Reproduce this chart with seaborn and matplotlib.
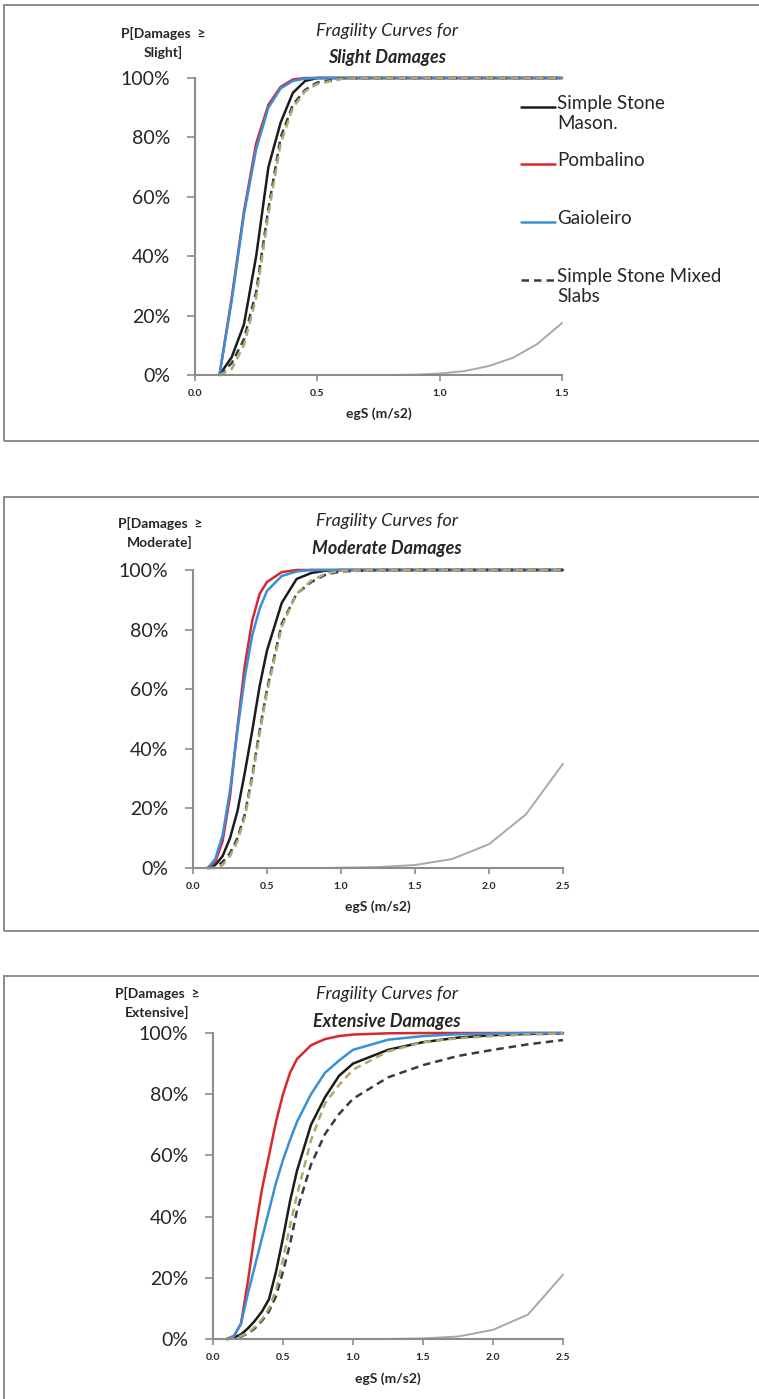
import numpy as np
import pandas as pd
import matplotlib
matplotlib.use("Agg")
import matplotlib.pyplot as plt
import seaborn as sns
from matplotlib.ticker import PercentFormatter, FormatStrFormatter
from matplotlib.patches import Rectangle
from matplotlib.lines import Line2D

sns.set_style("white")
plt.rcParams["font.family"] = ["Lato", "DejaVu Sans"]

# building types (last two are not in the legend)
types = ["Simple Stone Mason.", "Pombalino", "Gaioleiro",
         "Simple Stone Mixed Slabs", "Other (dashed)", "Other (grey)"]

# slight damages
x_slight = [0.1, 0.15, 0.2, 0.25, 0.3, 0.35, 0.4, 0.45, 0.5, 0.6, 0.7, 0.8, 0.9, 1.0, 1.1, 1.2, 1.3, 1.4, 1.5]
slight_ssm = [0, 0.06, 0.17, 0.40, 0.70, 0.85, 0.95, 0.99, 1, 1, 1, 1, 1, 1, 1, 1, 1, 1, 1]
slight_pomb = [0, 0.26, 0.55, 0.78, 0.91, 0.97, 0.995, 1, 1, 1, 1, 1, 1, 1, 1, 1, 1, 1, 1]
slight_gaio = [0, 0.25, 0.54, 0.76, 0.90, 0.965, 0.99, 0.998, 1, 1, 1, 1, 1, 1, 1, 1, 1, 1, 1]
slight_ssms = [0, 0.04, 0.12, 0.28, 0.56, 0.80, 0.91, 0.96, 0.985, 0.998, 1, 1, 1, 1, 1, 1, 1, 1, 1]
slight_other = [0, 0.02, 0.10, 0.26, 0.54, 0.78, 0.90, 0.955, 0.98, 0.997, 1, 1, 1, 1, 1, 1, 1, 1, 1]
slight_grey = [0, 0, 0, 0, 0, 0, 0, 0, 0, 0, 0, 0, 0.001, 0.005, 0.013, 0.03, 0.058, 0.105, 0.175]

# moderate damages
x_mod = [0.1, 0.15, 0.2, 0.25, 0.3, 0.35, 0.4, 0.45, 0.5, 0.6, 0.7, 0.8, 0.9, 1.0, 1.25, 1.5, 1.75, 2.0, 2.25, 2.5]
mod_ssm = [0, 0.01, 0.04, 0.10, 0.19, 0.32, 0.46, 0.61, 0.73, 0.89, 0.97, 0.99, 0.998, 1, 1, 1, 1, 1, 1, 1]
mod_pomb = [0, 0.02, 0.09, 0.24, 0.47, 0.68, 0.83, 0.92, 0.96, 0.993, 1, 1, 1, 1, 1, 1, 1, 1, 1, 1]
mod_gaio = [0, 0.03, 0.11, 0.26, 0.46, 0.64, 0.78, 0.87, 0.93, 0.98, 0.995, 1, 1, 1, 1, 1, 1, 1, 1, 1]
mod_ssms = [0, 0.003, 0.02, 0.05, 0.10, 0.18, 0.31, 0.46, 0.60, 0.82, 0.92, 0.96, 0.985, 0.995, 1, 1, 1, 1, 1, 1]
mod_other = [0, 0, 0.01, 0.04, 0.09, 0.17, 0.30, 0.45, 0.59, 0.81, 0.92, 0.965, 0.988, 0.997, 1, 1, 1, 1, 1, 1]
mod_grey = [0, 0, 0, 0, 0, 0, 0, 0, 0, 0, 0, 0, 0, 0.001, 0.003, 0.01, 0.03, 0.08, 0.18, 0.35]

# extensive damages
x_ext = [0.1, 0.15, 0.2, 0.25, 0.3, 0.35, 0.4, 0.45, 0.5, 0.55, 0.6, 0.7, 0.8, 0.9, 1.0, 1.25, 1.5, 1.75, 2.0, 2.25, 2.5]
ext_ssm = [0, 0.005, 0.015, 0.035, 0.06, 0.09, 0.13, 0.22, 0.33, 0.45, 0.55, 0.70, 0.79, 0.86, 0.90, 0.945, 0.97, 0.985, 0.993, 0.997, 0.999]
ext_pomb = [0, 0.01, 0.05, 0.19, 0.35, 0.49, 0.60, 0.71, 0.80, 0.87, 0.915, 0.96, 0.98, 0.99, 0.995, 0.999, 1, 1, 1, 1, 1]
ext_gaio = [0, 0.01, 0.05, 0.15, 0.24, 0.33, 0.42, 0.51, 0.585, 0.65, 0.71, 0.80, 0.87, 0.91, 0.945, 0.978, 0.99, 0.996, 0.998, 1, 1]
ext_ssms = [0, 0.002, 0.008, 0.018, 0.035, 0.06, 0.09, 0.14, 0.22, 0.31, 0.42, 0.57, 0.67, 0.735, 0.785, 0.855, 0.895, 0.925, 0.945, 0.963, 0.977]
ext_other = [0, 0.002, 0.01, 0.02, 0.04, 0.065, 0.10, 0.16, 0.26, 0.37, 0.47, 0.65, 0.77, 0.83, 0.88, 0.94, 0.97, 0.983, 0.99, 0.995, 0.998]
ext_grey = [0, 0, 0, 0, 0, 0, 0, 0, 0, 0, 0, 0, 0, 0, 0, 0, 0.002, 0.008, 0.03, 0.08, 0.21]

x_ticks_slight = [0.0, 0.5, 1.0, 1.5]
x_ticks_long = [0.0, 0.5, 1.0, 1.5, 2.0, 2.5]
y_ticks = [0, 0.2, 0.4, 0.6, 0.8, 1.0]

palette = {
    "Simple Stone Mason.": "#1c1c1c",
    "Pombalino": "#d8282c",
    "Gaioleiro": "#3990d8",
    "Simple Stone Mixed Slabs": "#3a3a44",
    "Other (dashed)": "#b3a86c",
    "Other (grey)": "#a8a8a8",
}
dashes = {
    "Simple Stone Mason.": "",
    "Pombalino": "",
    "Gaioleiro": "",
    "Simple Stone Mixed Slabs": (3, 2),
    "Other (dashed)": (3, 2),
}

panels = [
    dict(x=x_slight, ys=[slight_ssm, slight_pomb, slight_gaio, slight_ssms, slight_other, slight_grey],
         level="Slight", xmax=1.5, xticks=x_ticks_slight,
         rect=[195, 78, 562, 375], ylab=(163, 43), title_y=(31, 57), box=(5, 441)),
    dict(x=x_mod, ys=[mod_ssm, mod_pomb, mod_gaio, mod_ssms, mod_other, mod_grey],
         level="Moderate", xmax=2.5, xticks=x_ticks_long,
         rect=[193, 570, 563, 868], ylab=(160, 533), title_y=(521, 549), box=(497, 931)),
    dict(x=x_ext, ys=[ext_ssm, ext_pomb, ext_gaio, ext_ssms, ext_other, ext_grey],
         level="Extensive", xmax=2.5, xticks=x_ticks_long,
         rect=[213, 1033, 563, 1339], ylab=(157, 1003), title_y=(994, 1022), box=(976, 1420)),
]

W, H = 759, 1399
fig = plt.figure(figsize=(W / 100, H / 100), dpi=100)
axis_grey = "#8c8c8c"

for p in panels:
    # grey frame around each chart
    fig.patches.append(Rectangle((4 / W, 1 - p["box"][1] / H), (770 - 4) / W,
                                 (p["box"][1] - p["box"][0]) / H, transform=fig.transFigure,
                                 fill=False, edgecolor="#8a8a8a", linewidth=1.4))

    x0, y0, x1, y1 = p["rect"]
    ax = fig.add_axes([x0 / W, 1 - y1 / H, (x1 - x0) / W, (y1 - y0) / H])

    rows = []
    for name, vals in zip(types, p["ys"]):
        for xv, yv in zip(p["x"], vals):
            rows.append((name, xv, yv))
    df = pd.DataFrame(rows, columns=["type", "egS", "P"])

    main = df[df["type"] != "Other (grey)"]
    sns.lineplot(data=main, x="egS", y="P", hue="type", style="type",
                 hue_order=types[:5], style_order=types[:5],
                 palette=palette, dashes=dashes, linewidth=1.8,
                 estimator=None, sort=False, legend=False, ax=ax)
    sns.lineplot(data=df[df["type"] == "Other (grey)"], x="egS", y="P",
                 color=palette["Other (grey)"], linewidth=1.4,
                 estimator=None, sort=False, legend=False, ax=ax)
    for ln in ax.lines:
        ln.set_clip_on(False)

    ax.set_xlim(0, p["xmax"])
    ax.set_ylim(0, 1)
    ax.set_xticks(p["xticks"])
    ax.set_yticks(y_ticks)
    ax.yaxis.set_major_formatter(PercentFormatter(1.0, decimals=0))
    ax.xaxis.set_major_formatter(FormatStrFormatter("%.1f"))
    sns.despine(ax=ax)
    for s in ["left", "bottom"]:
        ax.spines[s].set_color(axis_grey)
        ax.spines[s].set_linewidth(1.5)
    ax.tick_params(axis="y", direction="out", length=6, width=1.2, color=axis_grey,
                   labelsize=14, pad=12, left=True)
    ax.tick_params(axis="x", direction="out", length=4, width=1.2, color=axis_grey,
                   labelsize=7.5, pad=6, bottom=True)
    for lab in ax.get_xticklabels():
        lab.set_fontweight("bold")

    ax.set_xlabel("egS (m/s2)", fontsize=10, fontweight="bold")
    ax.xaxis.set_label_coords(0.5, -0.108)
    ax.set_ylabel("")

    # y label and title sit above the axes
    ax_h = y1 - y0
    ax.text((p["ylab"][0] - x0) / (x1 - x0), (y1 - p["ylab"][1]) / ax_h,
            "P[Damages  ≥\n" + p["level"] + "]", transform=ax.transAxes,
            ha="center", va="center", fontsize=10, fontweight="bold", linespacing=1.6)
    fig.text(387 / W, 1 - p["title_y"][0] / H, "Fragility Curves for",
             ha="center", va="center", fontsize=13, style="italic")
    fig.text(387 / W, 1 - p["title_y"][1] / H, p["level"] + " Damages",
             ha="center", va="center", fontsize=13, style="italic", fontweight="bold")

# legend on the first chart
legend_items = [("Simple Stone\nMason.", 107), ("Pombalino", 164),
                ("Gaioleiro", 222), ("Simple Stone Mixed\nSlabs", 280)]
for name, (label, ypx) in zip(types[:4], legend_items):
    fig.add_artist(Line2D([521 / W, 555 / W], [1 - ypx / H, 1 - ypx / H],
                          transform=fig.transFigure, color=palette[name], linewidth=1.8,
                          dashes=dashes[name] if dashes[name] else (None, None)))
    fig.text(557 / W, 1 - (ypx - 12) / H, label, ha="left", va="top",
             fontsize=13.5, linespacing=1.2)

fig.savefig("out.png", dpi=100, facecolor="white")
